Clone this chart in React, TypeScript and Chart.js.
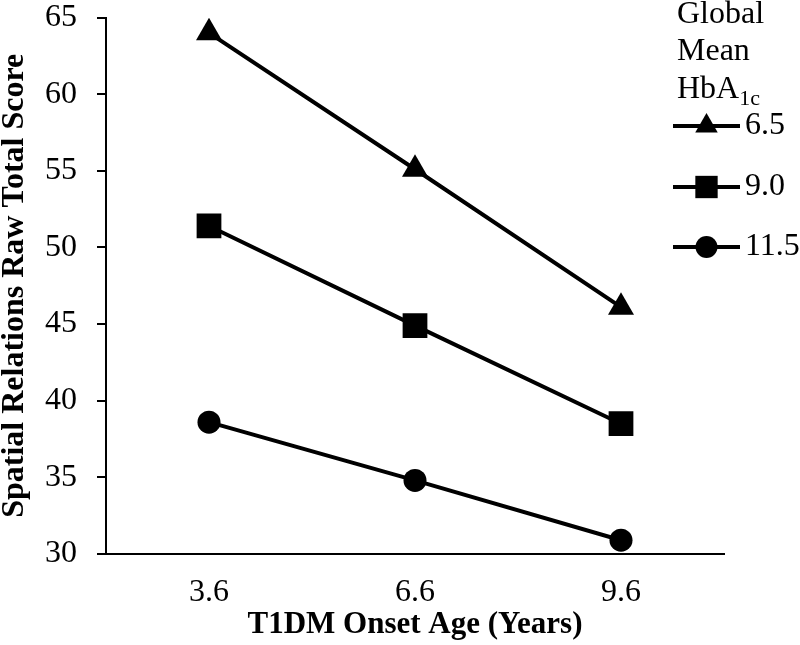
import React, { useEffect, useRef } from "react";
import { Chart, registerables } from "chart.js";
import { drawPoint } from "chart.js/helpers";

Chart.register(...registerables);

const categories = ["3.6", "6.6", "9.6"];
const seriesLabels = ["6.5", "9.0", "11.5"];
const series65 = [64.0, 55.1, 46.1];
const series90 = [51.4, 44.9, 38.5];
const series115 = [38.6, 34.8, 30.9];
const yTicks = [30, 35, 40, 45, 50, 55, 60, 65];

const FONT = "'Liberation Serif', 'Times New Roman', serif";

const legendPlugin = {
  id: "customLegend",
  afterDraw(chart: any) {
    const ctx = chart.ctx;
    ctx.save();
    ctx.fillStyle = "#000";
    ctx.textBaseline = "middle";
    ctx.textAlign = "left";
    ctx.font = `32px ${FONT}`;
    const tx = 677;
    ctx.fillText("Global", tx, 15);
    ctx.fillText("Mean", tx, 52);
    ctx.fillText("HbA", tx, 90);
    const w = ctx.measureText("HbA").width;
    ctx.font = `22px ${FONT}`;
    ctx.fillText("1c", tx + w, 99);

    const ys = [126, 187, 247];
    const radii = [13, 15.8, 11];
    chart.data.datasets.forEach((ds: any, i: number) => {
      const y = ys[i];
      ctx.strokeStyle = "#000";
      ctx.lineWidth = 4;
      ctx.beginPath();
      ctx.moveTo(673, y);
      ctx.lineTo(740, y);
      ctx.stroke();
      ctx.fillStyle = "#000";
      drawPoint(ctx, { pointStyle: ds.pointStyle, radius: radii[i], rotation: 0, borderWidth: 0 }, 706.5, y);
      ctx.fillStyle = "#000";
      ctx.font = `32px ${FONT}`;
      ctx.textBaseline = "middle";
      ctx.fillText(ds.label, 745, y);
    });
    ctx.restore();
  },
};

export default function App() {
  const ref = useRef<HTMLCanvasElement>(null);
  useEffect(() => {
    document.body.style.margin = "0";
    const mk = (label: string, data: number[], style: string, r: number) => ({
      label,
      data,
      pointStyle: style,
      pointRadius: r,
      pointHoverRadius: r,
      borderColor: "#000",
      backgroundColor: "#000",
      pointBackgroundColor: "#000",
      pointBorderWidth: 0,
      borderWidth: 4,
      tension: 0,
    });
    const chart = new Chart(ref.current!, {
      type: "line",
      data: {
        labels: categories,
        datasets: [
          mk(seriesLabels[0], series65, "triangle", 15),
          mk(seriesLabels[1], series90, "rect", 17.5),
          mk(seriesLabels[2], series115, "circle", 11.5),
        ],
      },
      plugins: [legendPlugin],
      options: {
        responsive: false,
        animation: false,
        layout: { padding: { top: 15, right: 76, left: 0, bottom: 0 } },
        plugins: { legend: { display: false }, tooltip: { enabled: false } },
        scales: {
          x: {
            type: "category",
            offset: true,
            grid: { display: false, drawTicks: false },
            border: { display: true, color: "#000", width: 2 },
            ticks: { color: "#000", padding: 19, font: { family: FONT, size: 32, lineHeight: 1.2 } },
            title: {
              display: true,
              text: "T1DM Onset Age (Years)",
              color: "#000",
              font: { family: FONT, size: 31, weight: "bold", lineHeight: 1.2 },
              padding: { top: 0, bottom: 1 },
            },
            afterFit: (s: any) => {
              s.height = 91;
              s.paddingLeft = 0;
              s.paddingRight = 0;
            },
          },
          y: {
            min: 30,
            max: 65,
            afterBuildTicks: (s: any) => {
              s.ticks = yTicks.map((v) => ({ value: v }));
            },
            grid: {
              drawOnChartArea: false,
              drawTicks: true,
              tickLength: 9,
              color: "#000",
              lineWidth: 2,
            },
            border: { display: true, color: "#000", width: 2 },
            ticks: { color: "#000", padding: 20, font: { family: FONT, size: 32, lineHeight: 1 } },
            title: {
              display: true,
              text: "Spatial Relations Raw Total Score",
              color: "#000",
              font: { family: FONT, size: 32, weight: "bold", lineHeight: 0.9 },
              padding: { top: 0, bottom: 0 },
            },
            afterFit: (s: any) => {
              s.width = 106;
              s.paddingTop = 15;
              s.paddingBottom = 0;
            },
          },
        },
      },
    } as any);
    return () => chart.destroy();
  }, []);
  return (
    <div style={{ position: "absolute", left: 0, top: 0, width: 800, height: 645 }}>
      <canvas ref={ref} width={800} height={645} style={{ display: "block" }} />
    </div>
  );
}
